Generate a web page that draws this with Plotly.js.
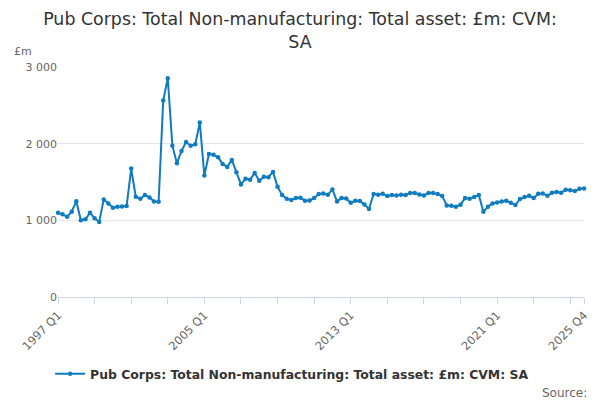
<!DOCTYPE html>
<html>
<head>
<meta charset="utf-8">
<script src="https://cdn.plot.ly/plotly-3.0.1.min.js"></script>
<style>html,body{margin:0;padding:0;background:#fff}#chart{width:600px;height:400px}</style>
</head>
<body>
<div id="chart"></div>
<script>
var startYear = 1997;
var endYear = 2025;
var quarters = [];
for (var y = startYear; y <= endYear; y++) {
  for (var q = 1; q <= 4; q++) quarters.push(y + ' Q' + q);
}
var values = [
  1100, 1078, 1048, 1113, 1250, 1000, 1013, 1100, 1026, 978,
  1273, 1221, 1165, 1178, 1182, 1186, 1675, 1308, 1282, 1329,
  1299, 1247, 1243, 2562, 2853, 1974, 1744, 1905, 2022, 1974,
  1991, 2277, 1584, 1866, 1857, 1822, 1736, 1697, 1788, 1627,
  1468, 1541, 1528, 1619, 1515, 1569, 1563, 1632, 1438, 1329,
  1282, 1264, 1290, 1294, 1256, 1260, 1290, 1342, 1351, 1333,
  1403, 1247, 1290, 1286, 1229, 1256, 1251, 1208, 1147, 1345,
  1333, 1346, 1316, 1329, 1325, 1333, 1329, 1355, 1355, 1338,
  1325, 1355, 1355, 1342, 1316, 1195, 1191, 1178, 1204, 1290,
  1282, 1303, 1329, 1112, 1178, 1221, 1234, 1247, 1256, 1229,
  1199, 1277, 1303, 1320, 1290, 1346, 1351, 1320, 1359, 1368,
  1359, 1398, 1394, 1381, 1411, 1416
];
var seriesName = 'Pub Corps: Total Non-manufacturing: Total asset: £m: CVM: SA';
var titleText = 'Pub Corps: Total Non-manufacturing: Total asset: £m: CVM:<br>SA';
var labeledTicks = ['1997 Q1', '2005 Q1', '2013 Q1', '2021 Q1', '2025 Q4'];
var yTickVals = [0, 1000, 2000, 3000];
var yTickText = ['0', '1 000', '2 000', '3 000'];

var xTickVals = [];
for (var i = 0; i < quarters.length; i += 8) xTickVals.push(quarters[i]);
xTickVals.push(quarters[quarters.length - 1]);
var xTickText = xTickVals.map(function (v) { return labeledTicks.indexOf(v) >= 0 ? v : ''; });

var color = '#0f7cc2';
var trace = {
  x: quarters, y: values, type: 'scatter', mode: 'lines+markers',
  name: seriesName,
  line: {color: color, width: 2},
  marker: {color: color, size: 4.5},
  cliponaxis: false
};
var layout = {
  width: 600, height: 400,
  margin: {l: 58, r: 16, t: 67, b: 102},
  paper_bgcolor: '#fff', plot_bgcolor: '#fff',
  font: {family: 'DejaVu Sans, sans-serif', color: '#666', size: 11},
  title: {text: titleText, font: {size: 17.4, color: '#333'}, x: 0.5, xanchor: 'center', y: 0.937, yanchor: 'middle', yref: 'container'},
  showlegend: true,
  legend: {orientation: 'h', x: -0.015, xanchor: 'left', y: -0.33, yanchor: 'middle', itemwidth: 30,
           font: {size: 12.4, color: '#333', weight: 'bold'}},
  xaxis: {
    type: 'category', range: [0, quarters.length - 1],
    tickmode: 'array', tickvals: xTickVals, ticktext: xTickText,
    tickangle: -45, ticks: 'outside', ticklen: 6, tickcolor: '#ccd6eb',
    showline: true, linecolor: '#ccd6eb', linewidth: 1,
    showgrid: false, zeroline: false, fixedrange: true,
    tickfont: {size: 11.5, color: '#666'}
  },
  yaxis: {
    range: [0, 3000], tickmode: 'array', tickvals: yTickVals, ticktext: yTickText,
    showgrid: true, gridcolor: '#e6e6e6', zeroline: false, showline: false,
    ticks: '', tickfont: {size: 11, color: '#666'}, fixedrange: true
  },
  annotations: [
    {text: '£m', xref: 'paper', yref: 'paper', x: -0.088, y: 1.066, xanchor: 'left', yanchor: 'middle', showarrow: false, font: {size: 11, color: '#666'}},
    {text: 'Source:', xref: 'paper', yref: 'paper', x: 1.01, y: -0.418, xanchor: 'right', yanchor: 'middle', showarrow: false, font: {size: 12, color: '#666'}}
  ]
};
Plotly.newPlot('chart', [trace], layout, {displayModeBar: false, staticPlot: true});
</script>
</body>
</html>
